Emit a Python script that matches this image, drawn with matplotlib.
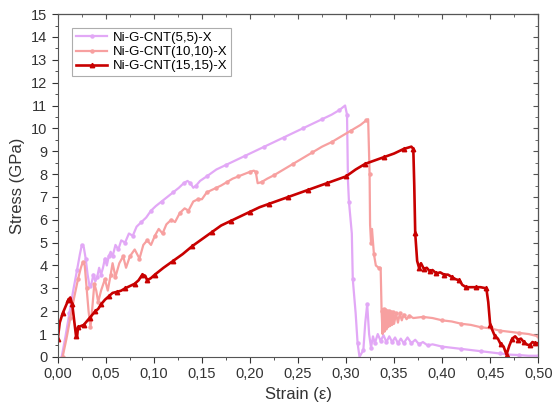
import numpy as np
import matplotlib.pyplot as plt
from matplotlib.ticker import MultipleLocator, FuncFormatter

plt.rcParams['font.family'] = ['Liberation Sans', 'DejaVu Sans']

labels = ['Ni-G-CNT(5,5)-X', 'Ni-G-CNT(10,10)-X', 'Ni-G-CNT(15,15)-X']

strain_55 = [0.004, 0.008, 0.012, 0.016, 0.020, 0.023, 0.025, 0.027, 0.029, 0.031,
             0.033, 0.035, 0.037, 0.039, 0.041, 0.043, 0.045, 0.047, 0.049, 0.051,
             0.053, 0.055, 0.057, 0.060, 0.063, 0.066, 0.070, 0.074, 0.078, 0.082,
             0.087, 0.092, 0.097, 0.102, 0.108, 0.114, 0.120, 0.126, 0.131, 0.135,
             0.138, 0.141, 0.144, 0.148, 0.155, 0.165, 0.175, 0.185, 0.195, 0.205,
             0.215, 0.225, 0.235, 0.245, 0.255, 0.265, 0.275, 0.285, 0.293, 0.299,
             0.301, 0.302, 0.303, 0.306, 0.307, 0.310, 0.312, 0.314, 0.318, 0.320,
             0.322, 0.324, 0.326, 0.328, 0.330, 0.333, 0.336, 0.339, 0.342, 0.345,
             0.348, 0.351, 0.354, 0.357, 0.360, 0.364, 0.368, 0.372, 0.376, 0.380,
             0.385, 0.390, 0.400, 0.410, 0.420, 0.430, 0.440, 0.450, 0.460, 0.470,
             0.480, 0.490, 0.500]
stress_55 = [0.0, 0.9, 1.9, 2.9, 3.8, 4.5, 4.9, 4.8, 4.3, 3.6,
             3.1, 3.2, 3.6, 3.3, 3.5, 3.9, 3.6, 3.9, 4.3, 4.0,
             4.4, 4.6, 4.4, 4.9, 4.7, 5.1, 5.0, 5.4, 5.3, 5.7,
             5.9, 6.1, 6.4, 6.6, 6.8, 7.0, 7.2, 7.4, 7.6, 7.7,
             7.6, 7.4, 7.5, 7.7, 7.9, 8.2, 8.4, 8.6, 8.8, 9.0,
             9.2, 9.4, 9.6, 9.8, 10.0, 10.2, 10.4, 10.6, 10.8, 11.0,
             10.6, 7.7, 6.8, 5.4, 3.4, 1.9, 0.6, 0.0, 0.3, 1.5,
             2.3, 1.0, 0.4, 0.9, 0.6, 1.0, 0.7, 0.95, 0.65, 0.9,
             0.65, 0.85, 0.6, 0.8, 0.6, 0.85, 0.6, 0.75, 0.55, 0.65,
             0.5, 0.55, 0.45, 0.4, 0.35, 0.3, 0.25, 0.2, 0.15, 0.1,
             0.08, 0.05, 0.05]

strain_1010 = [0.005, 0.009, 0.013, 0.017, 0.021, 0.024, 0.026, 0.028, 0.030, 0.032,
               0.034, 0.036, 0.038, 0.040, 0.042, 0.045, 0.049, 0.052, 0.055, 0.057,
               0.060, 0.064, 0.068, 0.071, 0.075, 0.080, 0.085, 0.089, 0.093, 0.097,
               0.101, 0.105, 0.109, 0.113, 0.118, 0.122, 0.127, 0.132, 0.136, 0.141,
               0.146, 0.150, 0.155, 0.160, 0.165, 0.170, 0.176, 0.182, 0.188, 0.194,
               0.200, 0.204, 0.206, 0.208, 0.212, 0.218, 0.225, 0.235, 0.245, 0.255,
               0.265, 0.275, 0.285, 0.295, 0.305, 0.315, 0.321, 0.323, 0.3245, 0.325,
               0.326, 0.327, 0.329, 0.331, 0.334, 0.336, 0.337, 0.338, 0.339, 0.340,
               0.341, 0.342, 0.343, 0.344, 0.345, 0.346, 0.347, 0.348, 0.349, 0.350,
               0.352, 0.354, 0.356, 0.358, 0.360, 0.363, 0.366, 0.370, 0.380, 0.390,
               0.400, 0.410, 0.420, 0.430, 0.440, 0.450, 0.460, 0.470, 0.480, 0.490,
               0.500]
stress_1010 = [0.0, 0.8, 1.7, 2.6, 3.4, 3.9, 4.15, 4.0, 3.0, 2.0,
               1.3, 2.2, 3.2, 2.9, 2.4, 2.9, 3.4, 2.9, 3.6, 4.1,
               3.5, 4.1, 4.4, 3.9, 4.4, 4.7, 4.3, 4.9, 5.1, 4.9,
               5.3, 5.6, 5.4, 5.8, 6.0, 5.9, 6.3, 6.5, 6.4, 6.8,
               6.9, 6.9, 7.2, 7.3, 7.4, 7.5, 7.65, 7.8, 7.9, 8.0,
               8.1, 8.15, 8.1, 7.6, 7.65, 7.8, 7.95, 8.2, 8.45, 8.7,
               8.95, 9.2, 9.4, 9.65, 9.9, 10.15, 10.35, 10.4, 8.0, 5.8,
               5.0, 5.6, 4.5, 4.0, 3.9, 3.9, 2.0, 1.0, 2.1, 1.1,
               2.05, 1.2, 2.0, 1.3, 2.0, 1.35, 1.95, 1.4, 1.95, 1.45,
               1.9, 1.5, 1.9, 1.6, 1.85, 1.65, 1.8, 1.7, 1.75, 1.7,
               1.6, 1.55, 1.45, 1.4, 1.3, 1.25, 1.15, 1.1, 1.05, 1.0,
               0.9]

strain_1515 = [0.000, 0.002, 0.005, 0.008, 0.011, 0.013, 0.015, 0.017, 0.019, 0.020,
               0.021, 0.024, 0.027, 0.030, 0.033, 0.036, 0.039, 0.042, 0.045, 0.049,
               0.053, 0.057, 0.062, 0.066, 0.070, 0.075, 0.080, 0.084, 0.088, 0.091,
               0.093, 0.097, 0.101, 0.110, 0.120, 0.130, 0.140, 0.150, 0.160, 0.170,
               0.180, 0.190, 0.200, 0.210, 0.220, 0.230, 0.240, 0.250, 0.260, 0.270,
               0.280, 0.290, 0.300, 0.310, 0.320, 0.330, 0.340, 0.350, 0.360, 0.368,
               0.370, 0.371, 0.372, 0.374, 0.376, 0.378, 0.381, 0.384, 0.387, 0.390,
               0.394, 0.398, 0.402, 0.406, 0.410, 0.414, 0.418, 0.421, 0.425, 0.430,
               0.435, 0.440, 0.446, 0.448, 0.450, 0.452, 0.455, 0.458, 0.461, 0.464,
               0.467, 0.470, 0.473, 0.476, 0.479, 0.482, 0.485, 0.488, 0.491, 0.494,
               0.497, 0.500]
stress_1515 = [0.8, 1.5, 1.9, 2.2, 2.5, 2.6, 2.3, 1.6, 0.9, 0.85,
               1.3, 1.35, 1.4, 1.55, 1.7, 1.85, 2.0, 2.1, 2.3, 2.5,
               2.65, 2.8, 2.85, 2.9, 3.0, 3.1, 3.2, 3.35, 3.6, 3.55,
               3.35, 3.45, 3.6, 3.9, 4.2, 4.5, 4.85, 5.15, 5.45, 5.75,
               5.95, 6.15, 6.35, 6.55, 6.7, 6.85, 7.0, 7.15, 7.3, 7.45,
               7.6, 7.75, 7.9, 8.2, 8.45, 8.6, 8.75, 8.9, 9.1, 9.2,
               9.1, 7.5, 5.4, 4.2, 3.9, 4.1, 3.85, 3.9, 3.75, 3.8,
               3.65, 3.7, 3.6, 3.6, 3.5, 3.4, 3.35, 3.15, 3.05, 3.05,
               3.05, 3.05, 3.0, 2.4, 1.4, 1.2, 0.9, 0.8, 0.55, 0.45,
               0.1, 0.5, 0.8, 0.9, 0.75, 0.8, 0.65, 0.55, 0.5, 0.65,
               0.6, 0.6]

fig = plt.figure(figsize=(5.56, 4.15), dpi=100)
ax = fig.add_axes([0.104, 0.140, 0.864, 0.826])

ax.plot(strain_55, stress_55, color='#e2a8f6', lw=1.6, marker='o', ms=2.2,
        markevery=2, label=labels[0])
ax.plot(strain_1010, stress_1010, color='#f7a0a0', lw=1.6, marker='o', ms=2.2,
        markevery=2, label=labels[1])
ax.plot(strain_1515, stress_1515, color='#c80000', lw=1.9, marker='^', ms=3.2,
        markevery=2, label=labels[2])

ax.set_xlim(0, 0.5)
ax.set_ylim(0, 15)
ax.xaxis.set_major_locator(MultipleLocator(0.05))
ax.xaxis.set_minor_locator(MultipleLocator(0.025))
ax.yaxis.set_major_locator(MultipleLocator(1))
ax.yaxis.set_minor_locator(MultipleLocator(0.5))
ax.xaxis.set_major_formatter(FuncFormatter(lambda v, p: f'{v:.2f}'.replace('.', ',')))
ax.tick_params(which='both', direction='out', colors='#333333', labelsize=10.5)
ax.tick_params(which='major', length=4)
ax.tick_params(which='minor', length=2)
for s in ax.spines.values():
    s.set_color('#555555')

# inward ticks on top and right, no labels
top = ax.secondary_xaxis('top')
top.xaxis.set_major_locator(MultipleLocator(0.05))
top.xaxis.set_minor_locator(MultipleLocator(0.025))
top.tick_params(which='both', direction='in', labeltop=False, colors='#555555')
top.tick_params(which='minor', length=2)
right = ax.secondary_yaxis('right')
right.yaxis.set_major_locator(MultipleLocator(1))
right.yaxis.set_minor_locator(MultipleLocator(0.5))
right.tick_params(which='both', direction='in', labelright=False, colors='#555555')
right.tick_params(which='minor', length=2)

ax.set_xlabel('Strain (\u03b5)', fontsize=12, color='#333333')
ax.set_ylabel('Stress (GPa)', fontsize=12, color='#333333')

leg = ax.legend(loc='upper left', bbox_to_anchor=(0.029, 0.96), fontsize=9.5,
                fancybox=False, edgecolor='#999999', handlelength=2.4,
                borderpad=0.3, labelspacing=0.15, handletextpad=0.4,
                borderaxespad=0)
leg.get_frame().set_linewidth(0.8)

plt.savefig('out.png', dpi=100)
